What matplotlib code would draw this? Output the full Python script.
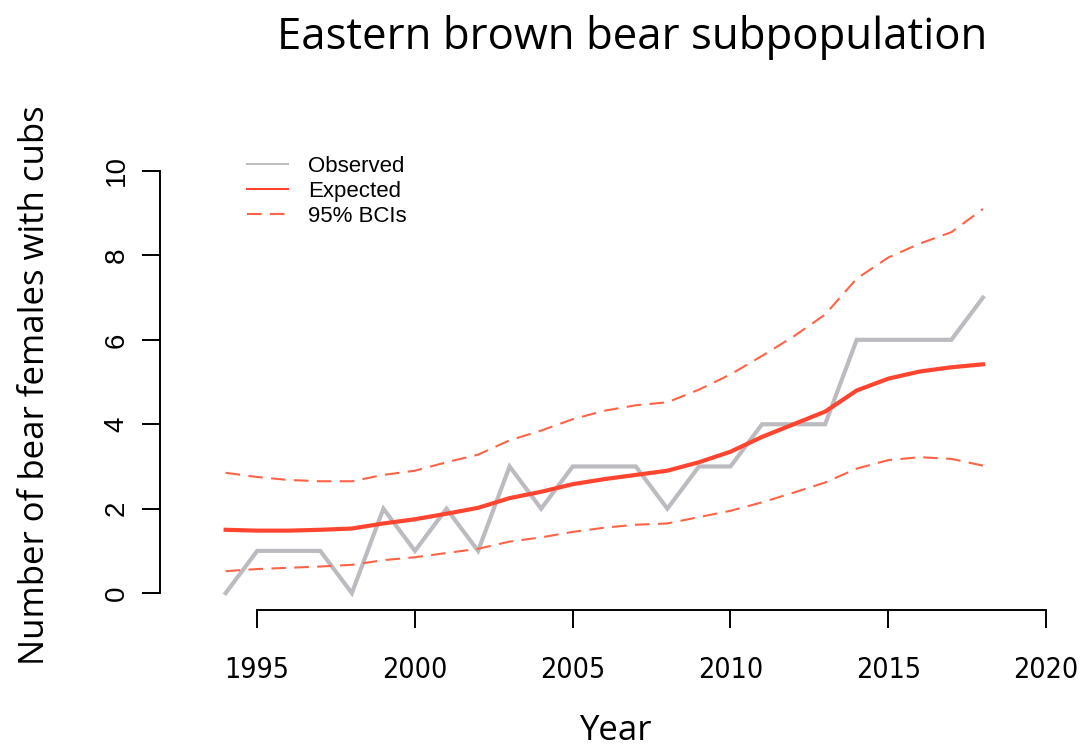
import matplotlib.pyplot as plt

years = list(range(1994, 2019))
observed = [0, 1, 1, 1, 0, 2, 1, 2, 1, 3, 2, 3, 3, 3, 2, 3, 3, 4, 4, 4, 6, 6, 6, 6, 7]
expected = [1.50, 1.48, 1.48, 1.50, 1.53, 1.65, 1.75, 1.88, 2.02, 2.25, 2.40, 2.58, 2.70,
            2.80, 2.90, 3.10, 3.35, 3.70, 4.00, 4.30, 4.80, 5.08, 5.25, 5.35, 5.42]
upper = [2.85, 2.75, 2.68, 2.65, 2.65, 2.80, 2.90, 3.10, 3.28, 3.62, 3.85, 4.12, 4.32,
         4.45, 4.52, 4.82, 5.18, 5.62, 6.08, 6.60, 7.45, 7.95, 8.28, 8.55, 9.10]
lower = [0.52, 0.57, 0.60, 0.63, 0.67, 0.78, 0.85, 0.95, 1.05, 1.22, 1.32, 1.45, 1.55,
         1.62, 1.65, 1.80, 1.95, 2.15, 2.38, 2.62, 2.95, 3.15, 3.22, 3.18, 3.02]
xticks = [1995, 2000, 2005, 2010, 2015, 2020]
yticks = [0, 2, 4, 6, 8, 10]

GREY = "#bdbbc0"
RED = "#ff4530"
RED_DASH = "#ff6347"

fig = plt.figure(figsize=(10.91, 7.48), dpi=100)
ax = fig.add_axes([160 / 1091, 138 / 748, 910 / 1091, 450 / 748])

ax.plot(years, observed, color=GREY, lw=3, label="Observed", solid_joinstyle="miter")
ax.plot(years, expected, color=RED, lw=3, label="Expected")
ax.plot(years, upper, color=RED_DASH, lw=1.5, ls=(0, (7, 4)), label="95% BCIs")
ax.plot(years, lower, color=RED_DASH, lw=1.5, ls=(0, (7, 4)))

ax.set_xlim(1991.92, 2020.76)
ax.set_ylim(-0.40, 10.26)

for s in ["top", "right"]:
    ax.spines[s].set_visible(False)
ax.spines["left"].set_bounds(0, 10)
ax.spines["bottom"].set_bounds(1995, 2020)
for s in ["left", "bottom"]:
    ax.spines[s].set_linewidth(1.4)

ax.set_xticks(xticks)
ax.set_yticks(yticks)
ax.tick_params(length=13, width=1.4, direction="out")
ax.tick_params(axis="x", pad=20)
ax.tick_params(axis="y", pad=9)
for t in ax.get_xticklabels():
    t.set_family("DejaVu Sans")
    t.set_stretch("condensed")
    t.set_fontsize(20.5)
for t in ax.get_yticklabels():
    t.set_family(["Liberation Sans", "DejaVu Sans"])
    t.set_fontsize(20)
    t.set_rotation(90)
    t.set_va("center")

fig.text(632 / 1091, 1 - 38 / 748, "Eastern brown bear subpopulation", fontsize=31.5,
         family="Open Sans", ha="center", va="center")
ax.set_xlabel("Year", fontsize=25, family="Open Sans", labelpad=22)
ax.set_ylabel("Number of bear females with cubs", fontsize=25, family="Open Sans", labelpad=37)

leg = ax.legend(loc="upper left", bbox_to_anchor=(0.0736, 1.054), frameon=False,
                prop={"family": "Liberation Sans", "size": 16}, handlelength=1.85,
                handletextpad=0.9, labelspacing=0.18)
for h in leg.get_lines():
    h.set_linewidth(1.5)

fig.savefig("out.png", dpi=100)
